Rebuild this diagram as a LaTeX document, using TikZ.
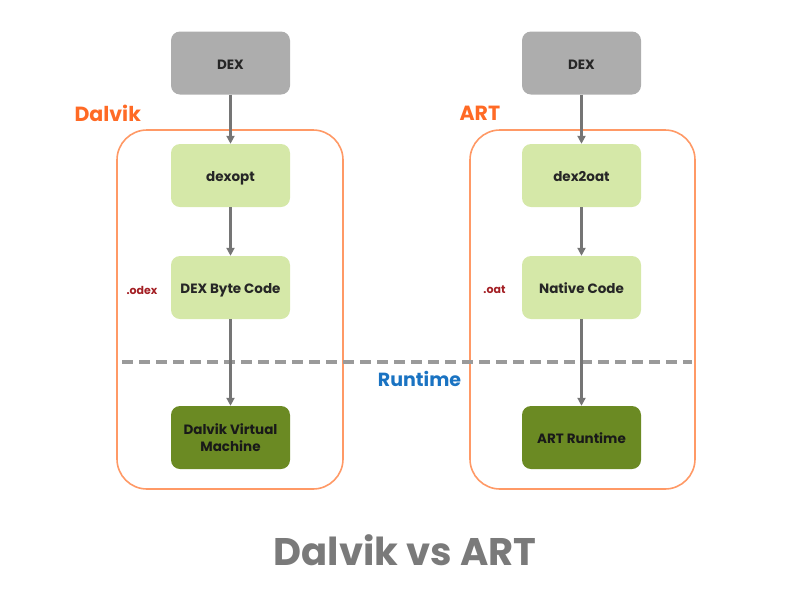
\documentclass[tikz,border=0pt]{standalone}
\usepackage{fontspec}
\setmainfont{Poppins}
\usetikzlibrary{arrows.meta}
\definecolor{dexgray}{HTML}{ADADAD}
\definecolor{lightgreen}{HTML}{D5E8A8}
\definecolor{darkgreen}{HTML}{6B8A23}
\definecolor{orangeline}{HTML}{FF9966}
\definecolor{orangetext}{HTML}{FF6A25}
\definecolor{arrowgray}{HTML}{757575}
\definecolor{dashgray}{HTML}{9A9A9A}
\definecolor{bluetext}{HTML}{1A73C2}
\definecolor{redtext}{HTML}{A31F24}
\definecolor{titlegray}{HTML}{7A7A7A}
\tikzset{
  box/.style={rounded corners=9pt, minimum width=119pt, minimum height=63pt, inner sep=2pt, align=center, font=\bfseries\fontsize{13.5}{16.5}\selectfont, text=black!85},
  oneline/.style={text height=12.5pt, text depth=0pt},
  dexbox/.style={box, oneline, fill=dexgray},
  lgbox/.style={box, oneline, fill=lightgreen},
  dgbox/.style={box, fill=darkgreen, text=black!90},
  container/.style={draw=orangeline, line width=1.6pt, rounded corners=30pt},
  flow/.style={draw=arrowgray, line width=2.4pt, -{Triangle[length=8pt,width=8pt]}},
  sidelabel/.style={font=\bfseries\fontsize{11}{13}\selectfont, text=redtext},
  grouplabel/.style={font=\bfseries\fontsize{20.5}{23}\selectfont, text=orangetext, anchor=west}
}
\begin{document}
\begin{tikzpicture}[x=1pt,y=-1pt]
\useasboundingbox (0,0) rectangle (809,590);
% containers
\draw[container] (117,130) rectangle (343,489);
\draw[container] (470,130) rectangle (695,489);
% dashed runtime line
\coordinate (dl) at (122,362);
\coordinate (dr) at (692,362);
\draw[dashgray, line width=3.5pt, dash pattern=on 11pt off 6pt] (dl) -- (dr);
% group labels
\node[grouplabel] (dalvik) at (71,113) {Dalvik};
\node[grouplabel] (art) at (456,113) {ART};
\node[font=\bfseries\fontsize{19}{21}\selectfont, text=bluetext] (runtime) at (419.5,379) {Runtime};
% left column
\node[dexbox] (ldex) at (230.5,63) {DEX};
\node[lgbox] (dexopt) at (230.5,175.5) {dexopt};
\node[lgbox] (bytecode) at (230.5,287.5) {DEX Byte Code};
\node[dgbox] (dvm) at (230.5,437.5) {Dalvik Virtual\\Machine};
\node[sidelabel] (odex) at (142,290) {.odex};
% right column
\node[dexbox] (rdex) at (581.5,63) {DEX};
\node[lgbox] (dex2oat) at (581.5,175.5) {dex2oat};
\node[lgbox] (native) at (581.5,287.5) {Native Code};
\node[dgbox, oneline] (artrt) at (581.5,437.5) {ART Runtime};
\node[sidelabel] (oat) at (494.5,290) {.oat};
% arrows
\draw[flow] (ldex) -- (dexopt);
\draw[flow] (dexopt) -- (bytecode);
\draw[flow] (bytecode) -- (dvm);
\draw[flow] (rdex) -- (dex2oat);
\draw[flow] (dex2oat) -- (native);
\draw[flow] (native) -- (artrt);
% title
\node[font=\bfseries\fontsize{38.5}{42}\selectfont, text=titlegray] (title) at (405,550) {Dalvik vs ART};
\end{tikzpicture}
\end{document}
